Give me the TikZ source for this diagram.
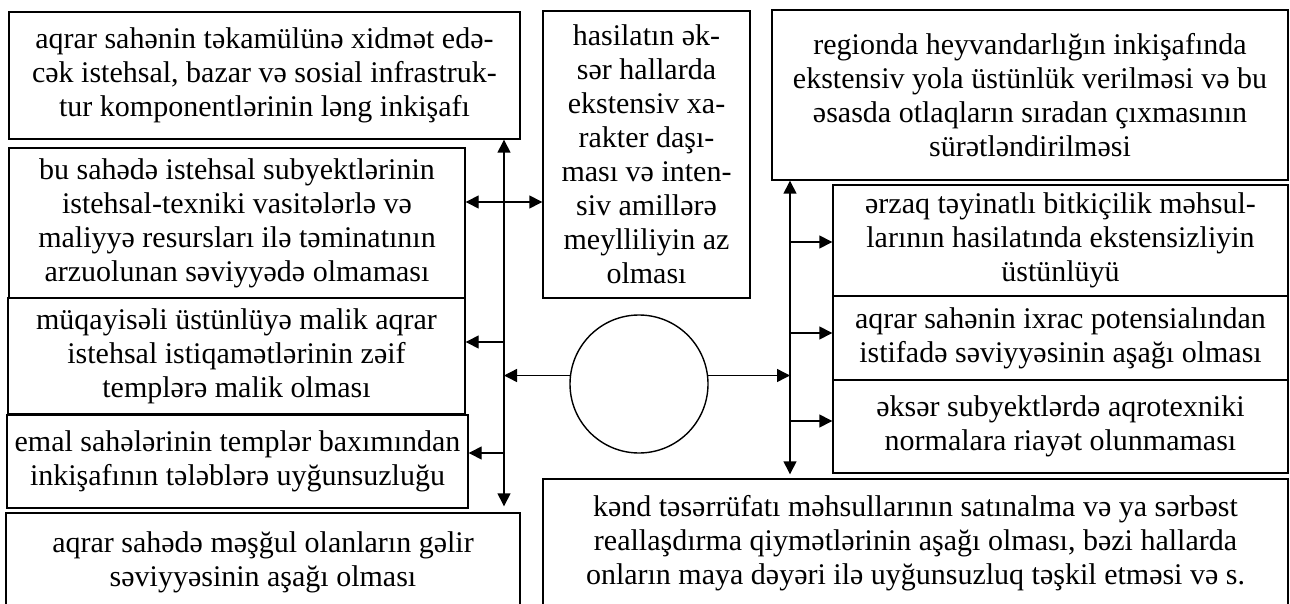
\documentclass[tikz,border=0pt]{standalone}
\usepackage{fontspec}
\setmainfont{Liberation Serif}
\usetikzlibrary{arrows.meta}

\begin{document}
\begin{tikzpicture}[x=0.5pt,y=-0.5pt]
        \clip (0,0) rectangle (1290,604);
        \begin{scope}[every node/.style={draw, line width=0.7pt, inner sep=0, align=center, font=\fontsize{15}{17}\selectfont}]
                \node[minimum width=255.5pt, minimum height=63.5pt] (Infra) at (264.5,75.5) {aqrar sahənin təkamülünə xidmət edə-\\cək istehsal, bazar və sosial infrastruk-\\tur komponentlərinin ləng inkişafı};
                \node[minimum width=228pt, minimum height=75pt] (Tech) at (237,223) {bu sahədə istehsal subyektlərinin\\istehsal-texniki vasitələrlə və\\maliyyə resursları ilə təminatının\\arzuolunan səviyyədə olmaması};
                \node[minimum width=228.5pt, minimum height=58pt] (Tempo) at (236.5,356) {müqayisəli üstünlüyə malik aqrar\\istehsal istiqamətlərinin zəif\\templərə malik olması};
                \node[minimum width=230.5pt, minimum height=46.5pt] (Emal) at (237.5,461.5) {emal sahələrinin templər baxımından\\inkişafının tələblərə uyğunsuzluğu};
                \node[minimum width=257pt, minimum height=49.5pt] (Gelir) at (263,562.5) {aqrar sahədə məşğul olanların gəlir\\səviyyəsinin aşağı olması};
                \node[minimum width=103.5pt, minimum height=143.5pt] (Hasil) at (646.5,154.5) {hasilatın ək-\\sər hallarda\\ekstensiv xa-\\rakter daşı-\\ması və inten-\\siv amillərə\\meylliliyin az\\olması};
                \node[minimum width=258pt, minimum height=85pt] (Heyvan) at (1030,95) {regionda heyvandarlığın inkişafında\\ekstensiv yola üstünlük verilməsi və bu\\əsasda otlaqların sıradan çıxmasının\\sürətləndirilməsi};
                \node[minimum width=227.5pt, minimum height=55.5pt] (Erzaq) at (1060.5,240.5) {ərzaq təyinatlı bitkiçilik məhsul-\\larının hasilatında ekstensizliyin\\üstünlüyü};
                \node[minimum width=227.5pt, minimum height=42pt] (Ixrac) at (1060.5,338) {aqrar sahənin ixrac potensialından\\istifadə səviyyəsinin aşağı olması};
                \node[minimum width=227.5pt, minimum height=46.5pt] (Aqro) at (1060.5,426.5) {əksər subyektlərdə aqrotexniki\\normalara riayət olunmaması};
                \node[minimum width=372.5pt, minimum height=64.5pt] (Qiymet) at (915.5,543.5) {kənd təsərrüfatı məhsullarının satınalma və ya sərbəst\\reallaşdırma qiymətlərinin aşağı olması, bəzi hallarda\\onların maya dəyəri ilə uyğunsuzluq təşkil etməsi və s.};
                \node[circle, minimum size=69pt] (Mid) at (639,384) {};
        \end{scope}
        \begin{scope}[every path/.style={line width=0.7pt, ->, >={Triangle[length=6.5pt,width=6.5pt]}}]
                \coordinate (LS) at (504,0);
                \coordinate (RS) at (790,0);
                \coordinate (m) at (0,202);
                \coordinate (lTempo) at (504,342);
                \coordinate (lEmal) at (504,453);
                \coordinate (rErzaq) at (790,242);
                \coordinate (rIxrac) at (790,333);
                \coordinate (rAqro) at (790,421);
                \path (Infra.south -| LS) edge[<->, shorten >=3pt] (Gelir.north -| LS);
                \path (Heyvan.south -| RS) edge[<->, shorten >=2pt] (Qiymet.north -| RS);
                \path (Tech.east |- m) edge[<->] (Hasil.west |- m);
                \path (lTempo) edge (lTempo -| Tempo.east);
                \path (lEmal) edge (lEmal -| Emal.east);
                \path (Mid.173) edge (Mid.173 -| LS);
                \path (Mid.7) edge (Mid.7 -| RS);
                \path (rErzaq) edge (rErzaq -| Erzaq.west);
                \path (rIxrac) edge (rIxrac -| Ixrac.west);
                \path (rAqro) edge (rAqro -| Aqro.west);
        \end{scope}
\end{tikzpicture}
\end{document}
